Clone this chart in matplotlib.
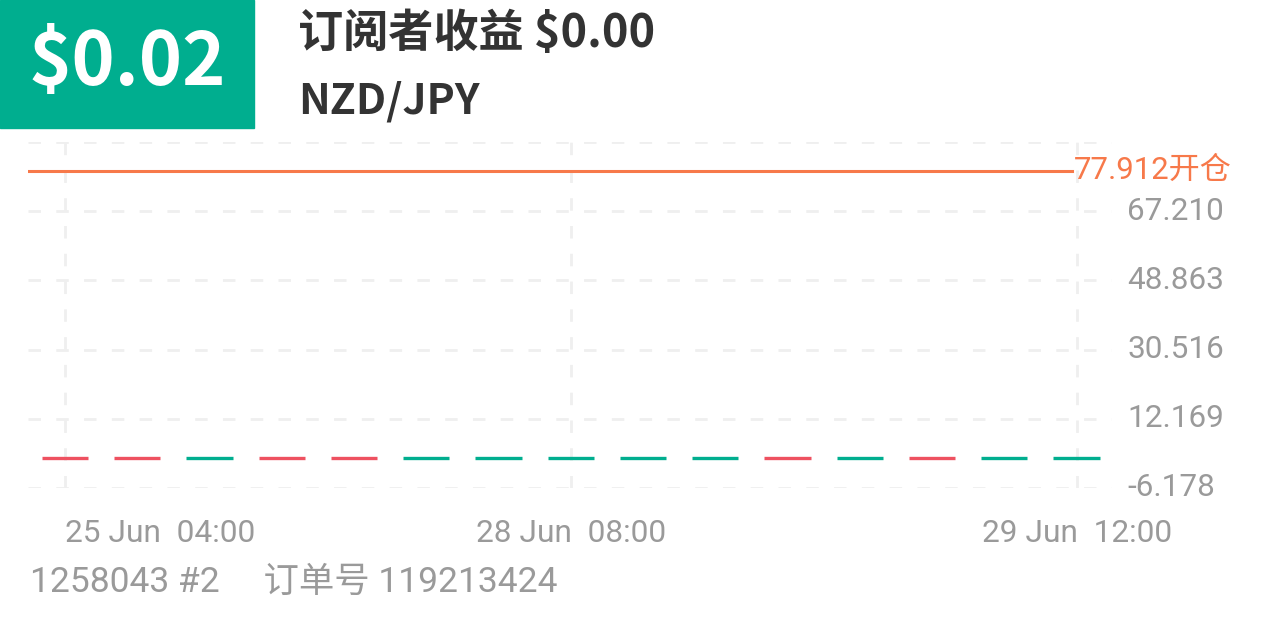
import matplotlib.pyplot as plt
from matplotlib.patches import Rectangle
from matplotlib.transforms import blended_transform_factory

# --------------------------- data ---------------------------
profit_text = "$0.02"
title_text = "订阅者收益 $0.00"
symbol_text = "NZD/JPY"
footer_text = "1258043 #2     订单号 119213424"

open_price = 77.912
open_label = "77.912开仓"

y_ticks = [-6.178, 12.169, 30.516, 48.863, 67.210, 85.557]
y_tick_labels = ["-6.178", "12.169", "30.516", "48.863", "67.210", ""]

# one flat candle per bar (open == close), up/down colouring
candle_values = [1.74] * 15
candle_up = [False, False, True, False, False, True, True, True, True, True,
             False, True, False, True, True]

x_tick_pos = [0, 7, 14]
x_tick_labels = ["25 Jun  04:00", "28 Jun  08:00", "29 Jun  12:00"]

GREEN = "#00ae8f"
RED = "#ee5160"
ORANGE = "#f7794a"
GRID = "#efefef"
TICK = "#9a9a9a"
DARK = "#333333"

bold_font = ["Noto Sans CJK SC", "DejaVu Sans"]
light_font = ["Roboto", "Noto Sans CJK SC", "DejaVu Sans"]

# --------------------------- figure ---------------------------
fig = plt.figure(figsize=(12.66, 6.33), dpi=100)
W, H = 1266, 633

# header box
fig.patches.append(Rectangle((0, 1 - 128 / H), 254 / W, 128 / H,
                             transform=fig.transFigure, color=GREEN, zorder=0))
fig.text(127 / W, 1 - 64 / H, profit_text, color="white", fontsize=53,
         fontweight="bold", family=bold_font, ha="center", va="center")
fig.text(298 / W, 1 - 34 / H, title_text, color=DARK, fontsize=32.5,
         fontweight="bold", family=bold_font, ha="left", va="center")
fig.text(298 / W, 1 - 101 / H, symbol_text, color=DARK, fontsize=30.5,
         fontweight="bold", family=bold_font, ha="left", va="center")

# chart
ax = fig.add_axes([28 / W, 1 - 488 / H, 1084 / W, 346 / H])
ax.set_xlim(-0.51, 14.49)
ax.set_ylim(y_ticks[0], y_ticks[-1])
for s in ax.spines.values():
    s.set_visible(False)

ax.set_yticks(y_ticks)
ax.set_yticklabels(y_tick_labels)
ax.yaxis.tick_right()
ax.tick_params(axis="y", length=0, pad=11, labelsize=22.7, labelcolor=TICK)
ax.set_xticks(x_tick_pos)
ax.set_xticklabels(x_tick_labels)
ax.tick_params(axis="x", length=0, pad=22, labelsize=22.8, labelcolor=TICK)
for lab in ax.get_xticklabels() + ax.get_yticklabels():
    lab.set_family(light_font)
for lab in ax.get_yticklabels():
    lab.set_va("center")
ax.get_xticklabels()[0].set_ha("left")

ax.grid(True, color=GRID, linewidth=2, linestyle=(0, (4.5, 5.5)))
ax.set_axisbelow(True)

# flat candles
for i, (v, up) in enumerate(zip(candle_values, candle_up)):
    ax.hlines(v, i - 0.32, i + 0.32, color=GREEN if up else RED,
              linewidth=2.4, zorder=3)

# open price line + label
ax.axhline(open_price, xmin=0, xmax=0.963, color=ORANGE, linewidth=2.2, zorder=3)
trans = blended_transform_factory(ax.transAxes, ax.transData)
ax.text(0.965, open_price, open_label, transform=trans, color=ORANGE,
        fontsize=22.4, family=light_font, ha="left", va="center", clip_on=False)

fig.text(30 / W, 1 - 582 / H, footer_text, color=TICK, fontsize=25.5,
         family=light_font, ha="left", va="center")

fig.savefig("out.png", dpi=100)
